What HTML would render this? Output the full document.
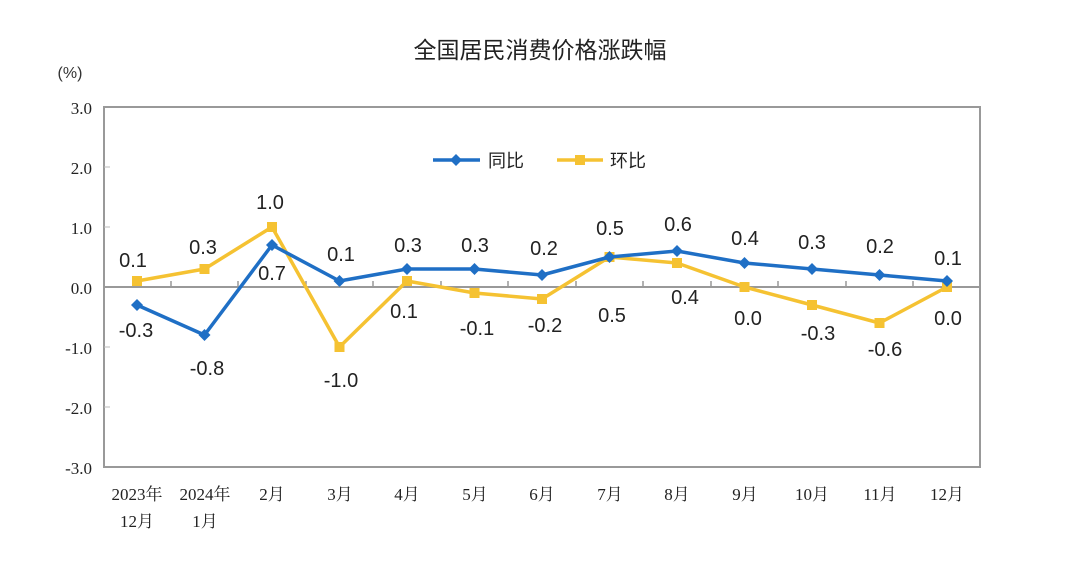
<!DOCTYPE html>
<html><head><meta charset="utf-8"><style>
html,body{margin:0;padding:0;background:#fff;}
svg{display:block;}
</style></head><body>
<svg width="1080" height="572" xmlns="http://www.w3.org/2000/svg">
<rect width="1080" height="572" fill="#fff"/>
<text x="540" y="58" text-anchor="middle" font-family="Liberation Sans,'Noto Sans CJK SC',sans-serif" font-size="23" fill="#222">全国居民消费价格涨跌幅</text>
<text x="70" y="78" text-anchor="middle" font-family="Liberation Sans,sans-serif" font-size="16" fill="#333">(%)</text>
<rect x="104" y="107" width="876" height="360" fill="none" stroke="#999" stroke-width="2"/>
<line x1="104" y1="287" x2="980" y2="287" stroke="#999" stroke-width="2"/>
<g stroke="#bbb" stroke-width="1">
<line x1="104" y1="167" x2="110" y2="167"/><line x1="104" y1="227" x2="110" y2="227"/><line x1="104" y1="347" x2="110" y2="347"/><line x1="104" y1="407" x2="110" y2="407"/>
</g>
<g stroke="#999" stroke-width="1.5">
<line x1="171" y1="281" x2="171" y2="287"/><line x1="238" y1="281" x2="238" y2="287"/><line x1="306" y1="281" x2="306" y2="287"/><line x1="373" y1="281" x2="373" y2="287"/><line x1="441" y1="281" x2="441" y2="287"/><line x1="508" y1="281" x2="508" y2="287"/><line x1="576" y1="281" x2="576" y2="287"/><line x1="643" y1="281" x2="643" y2="287"/><line x1="711" y1="281" x2="711" y2="287"/><line x1="778" y1="281" x2="778" y2="287"/><line x1="846" y1="281" x2="846" y2="287"/><line x1="913" y1="281" x2="913" y2="287"/>
</g>
<g font-family="Liberation Serif,'Noto Serif CJK SC',serif" font-size="17" fill="#222" text-anchor="end">
<text x="92" y="114">3.0</text><text x="92" y="174">2.0</text><text x="92" y="234">1.0</text><text x="92" y="294">0.0</text><text x="92" y="354">-1.0</text><text x="92" y="414">-2.0</text><text x="92" y="474">-3.0</text>
</g>
<g font-family="Liberation Serif,'Noto Serif CJK SC',serif" font-size="17" fill="#222" text-anchor="middle">
<text x="137" y="500">2023年</text><text x="137" y="527">12月</text>
<text x="205" y="500">2024年</text><text x="205" y="527">1月</text>
<text x="272" y="500">2月</text><text x="340" y="500">3月</text><text x="407" y="500">4月</text><text x="475" y="500">5月</text><text x="542" y="500">6月</text><text x="610" y="500">7月</text><text x="677" y="500">8月</text><text x="745" y="500">9月</text><text x="812" y="500">10月</text><text x="880" y="500">11月</text><text x="947" y="500">12月</text>
</g>
<!-- legend -->
<line x1="433" y1="160" x2="480" y2="160" stroke="#1f6fc5" stroke-width="3.5"/>
<polygon points="456,154 462,160 456,166 450,160" fill="#1f6fc5"/>
<text x="488" y="167" font-family="Liberation Sans,'Noto Sans CJK SC',sans-serif" font-size="18" fill="#222">同比</text>
<line x1="557" y1="160" x2="603" y2="160" stroke="#f5c232" stroke-width="3.5"/>
<rect x="575" y="155" width="10" height="10" fill="#f5c232"/>
<text x="610" y="167" font-family="Liberation Sans,'Noto Sans CJK SC',sans-serif" font-size="18" fill="#222">环比</text>
<!-- yellow -->
<polyline fill="none" stroke="#f5c232" stroke-width="3.5" stroke-linejoin="round" points="137,281 204.5,269 272,227 339.5,347 407,281 474.5,293 542,299 609.5,257 677,263 744.5,287 812,305 879.5,323 947,287"/>
<g fill="#f5c232">
<rect x="132" y="276" width="10" height="10"/><rect x="199.5" y="264" width="10" height="10"/><rect x="267" y="222" width="10" height="10"/><rect x="334.5" y="342" width="10" height="10"/><rect x="402" y="276" width="10" height="10"/><rect x="469.5" y="288" width="10" height="10"/><rect x="537" y="294" width="10" height="10"/><rect x="604.5" y="252" width="10" height="10"/><rect x="672" y="258" width="10" height="10"/><rect x="739.5" y="282" width="10" height="10"/><rect x="807" y="300" width="10" height="10"/><rect x="874.5" y="318" width="10" height="10"/><rect x="942" y="282" width="10" height="10"/>
</g>
<!-- blue -->
<polyline fill="none" stroke="#1f6fc5" stroke-width="3.5" stroke-linejoin="round" points="137,305 204.5,335 272,245 339.5,281 407,269 474.5,269 542,275 609.5,257 677,251 744.5,263 812,269 879.5,275 947,281"/>
<g fill="#1f6fc5">
<polygon points="137,299 143,305 137,311 131,305"/><polygon points="204.5,329 210.5,335 204.5,341 198.5,335"/><polygon points="272,239 278,245 272,251 266,245"/><polygon points="339.5,275 345.5,281 339.5,287 333.5,281"/><polygon points="407,263 413,269 407,275 401,269"/><polygon points="474.5,263 480.5,269 474.5,275 468.5,269"/><polygon points="542,269 548,275 542,281 536,275"/><polygon points="609.5,251 615.5,257 609.5,263 603.5,257"/><polygon points="677,245 683,251 677,257 671,251"/><polygon points="744.5,257 750.5,263 744.5,269 738.5,263"/><polygon points="812,263 818,269 812,275 806,269"/><polygon points="879.5,269 885.5,275 879.5,281 873.5,275"/><polygon points="947,275 953,281 947,287 941,281"/>
</g>
<g font-family="Liberation Sans,sans-serif" font-size="20" fill="#222" text-anchor="middle">
<text x="136" y="337">-0.3</text><text x="207" y="375">-0.8</text><text x="272" y="280">0.7</text><text x="341" y="261">0.1</text><text x="408" y="252">0.3</text><text x="475" y="252">0.3</text><text x="544" y="255">0.2</text><text x="610" y="235">0.5</text><text x="678" y="231">0.6</text><text x="745" y="245">0.4</text><text x="812" y="249">0.3</text><text x="880" y="253">0.2</text><text x="948" y="265">0.1</text>
<text x="133" y="267">0.1</text><text x="203" y="254">0.3</text><text x="270" y="209">1.0</text><text x="341" y="387">-1.0</text><text x="404" y="318">0.1</text><text x="477" y="335">-0.1</text><text x="545" y="332">-0.2</text><text x="612" y="322">0.5</text><text x="685" y="304">0.4</text><text x="748" y="325">0.0</text><text x="818" y="340">-0.3</text><text x="885" y="356">-0.6</text><text x="948" y="325">0.0</text>
</g>
</svg>
</body></html>
